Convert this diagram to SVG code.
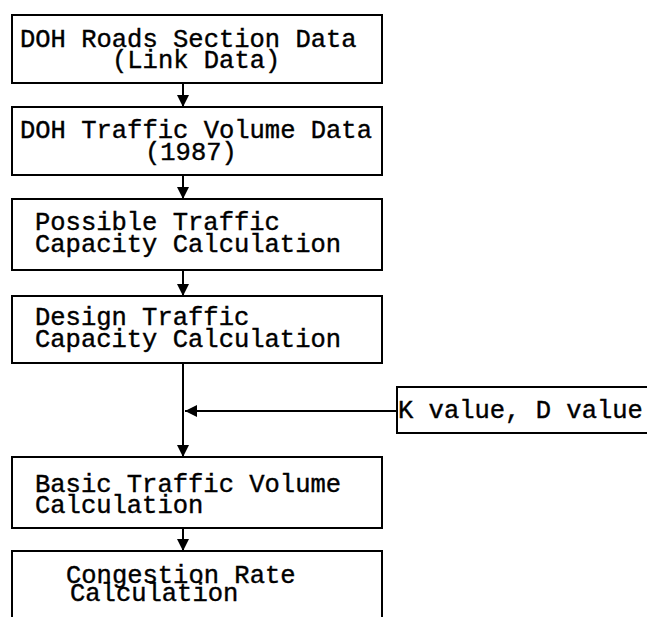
<svg xmlns="http://www.w3.org/2000/svg" width="647" height="617" viewBox="0 0 647 617">
<style>
.box{fill:#fff;stroke:#000;stroke-width:2}
.t{font-family:"Liberation Mono","Courier New",monospace;font-size:25.5px;fill:#000;stroke:#000;stroke-width:0.4}
.ln{stroke:#000;stroke-width:2;fill:none}
</style>
<defs>
<marker id="ah" viewBox="0 0 12 12" refX="12" refY="6" markerWidth="12" markerHeight="12" markerUnits="userSpaceOnUse" orient="auto">
<path d="M0,0 L12,6 L0,12 Z" fill="#000"/>
</marker>
</defs>
<rect width="647" height="617" fill="#fff"/>
<g id="connectors">
<line class="ln" x1="183" y1="83" x2="183" y2="107" marker-end="url(#ah)"/>
<line class="ln" x1="183" y1="175" x2="183" y2="199" marker-end="url(#ah)"/>
<line class="ln" x1="183" y1="270" x2="183" y2="296" marker-end="url(#ah)"/>
<line class="ln" x1="183" y1="363" x2="183" y2="457" marker-end="url(#ah)"/>
<line class="ln" x1="397" y1="411" x2="185" y2="411" marker-end="url(#ah)"/>
<line class="ln" x1="183" y1="528" x2="183" y2="551" marker-end="url(#ah)"/>
</g>
<g id="n1">
<rect class="box" x="12" y="15" width="370" height="68"/>
<text class="t" x="20" y="47">DOH Roads Section Data</text>
<text class="t" x="112" y="68">(Link Data)</text>
</g>
<g id="n2">
<rect class="box" x="12" y="107" width="370" height="68"/>
<text class="t" x="20" y="138">DOH Traffic Volume Data</text>
<text class="t" x="145" y="160">(1987)</text>
</g>
<g id="n3">
<rect class="box" x="12" y="199" width="370" height="71"/>
<text class="t" x="35" y="230">Possible Traffic</text>
<text class="t" x="35" y="252">Capacity Calculation</text>
</g>
<g id="n4">
<rect class="box" x="12" y="296" width="370" height="67"/>
<text class="t" x="35" y="325">Design Traffic</text>
<text class="t" x="35" y="347">Capacity Calculation</text>
</g>
<g id="n5">
<rect class="box" x="397" y="387" width="270" height="46"/>
<text class="t" x="398" y="418">K value, D value</text>
</g>
<g id="n6">
<rect class="box" x="12" y="457" width="370" height="71"/>
<text class="t" x="35" y="492">Basic Traffic Volume</text>
<text class="t" x="35" y="513">Calculation</text>
</g>
<g id="n7">
<rect class="box" x="12" y="551" width="370" height="90"/>
<text class="t" x="66" y="583">Congestion Rate</text>
<text class="t" x="70" y="601">Calculation</text>
</g>
</svg>
